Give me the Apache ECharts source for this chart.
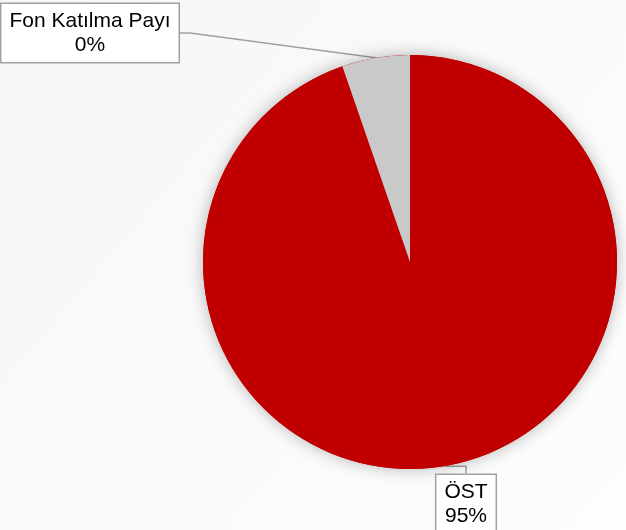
<!DOCTYPE html>
<html>
<head>
<meta charset="utf-8">
<script src="https://cdn.jsdelivr.net/npm/echarts@6/dist/echarts.min.js"></script>
<style>
html,body{margin:0;padding:0;background:#fff;}
#c{width:626px;height:530px;}
</style>
</head>
<body>
<div id="c"></div>
<script>
// Data
var categories = ['ÖST', 'Fon Katılma Payı'];
var values = [94.7, 5.3];
var percentLabels = ['95%', '0%'];
var colors = ['#c00000', '#c9c9c9'];

var chart = echarts.init(document.getElementById('c'), null, {renderer: 'canvas'});
var labelPos = [
  {x: 466, y: 504},
  {x: 90, y: 33}
];
var total = values.reduce(function (a, b) { return a + b; }, 0);
chart.setOption({
  backgroundColor: {
    type: 'linear', x: 0, y: 0, x2: 1, y2: 1,
    colorStops: [{offset: 0, color: '#f6f6f7'}, {offset: 1, color: '#fdfdfd'}]
  },
  animation: false,
  series: [{
    type: 'pie',
    silent: true,
    center: [410, 262],
    radius: 207,
    data: [{name: 'shadow', value: total}],
    itemStyle: {
      color: '#c00000',
      shadowBlur: 16,
      shadowColor: 'rgba(0,0,0,0.28)'
    },
    label: {show: false},
    labelLine: {show: false}
  }, {
    type: 'pie',
    center: [410, 262],
    radius: 207,
    startAngle: 90,
    clockwise: true,
    data: categories.map(function (n, i) {
      return {name: n, value: values[i], itemStyle: {color: colors[i]}};
    }),
    itemStyle: {borderWidth: 0},
    label: {
      show: true,
      formatter: function (p) { return p.name + '\n' + percentLabels[p.dataIndex]; },
      fontFamily: 'Liberation Sans, Arial, sans-serif',
      fontSize: 21,
      lineHeight: 24,
      color: '#000000',
      align: 'center',
      backgroundColor: '#ffffff',
      borderColor: '#a0a0a0',
      borderWidth: 1.5,
      padding: [5, 8, 5, 8]
    },
    labelLine: {
      show: true,
      length: 10,
      length2: 10,
      lineStyle: {color: '#a0a0a0', width: 1.5}
    },
    labelLayout: function (p) {
      var pos = labelPos[p.dataIndex];
      return {x: pos.x, y: pos.y, align: 'center', verticalAlign: 'middle'};
    }
  }]
});
</script>
</body>
</html>
